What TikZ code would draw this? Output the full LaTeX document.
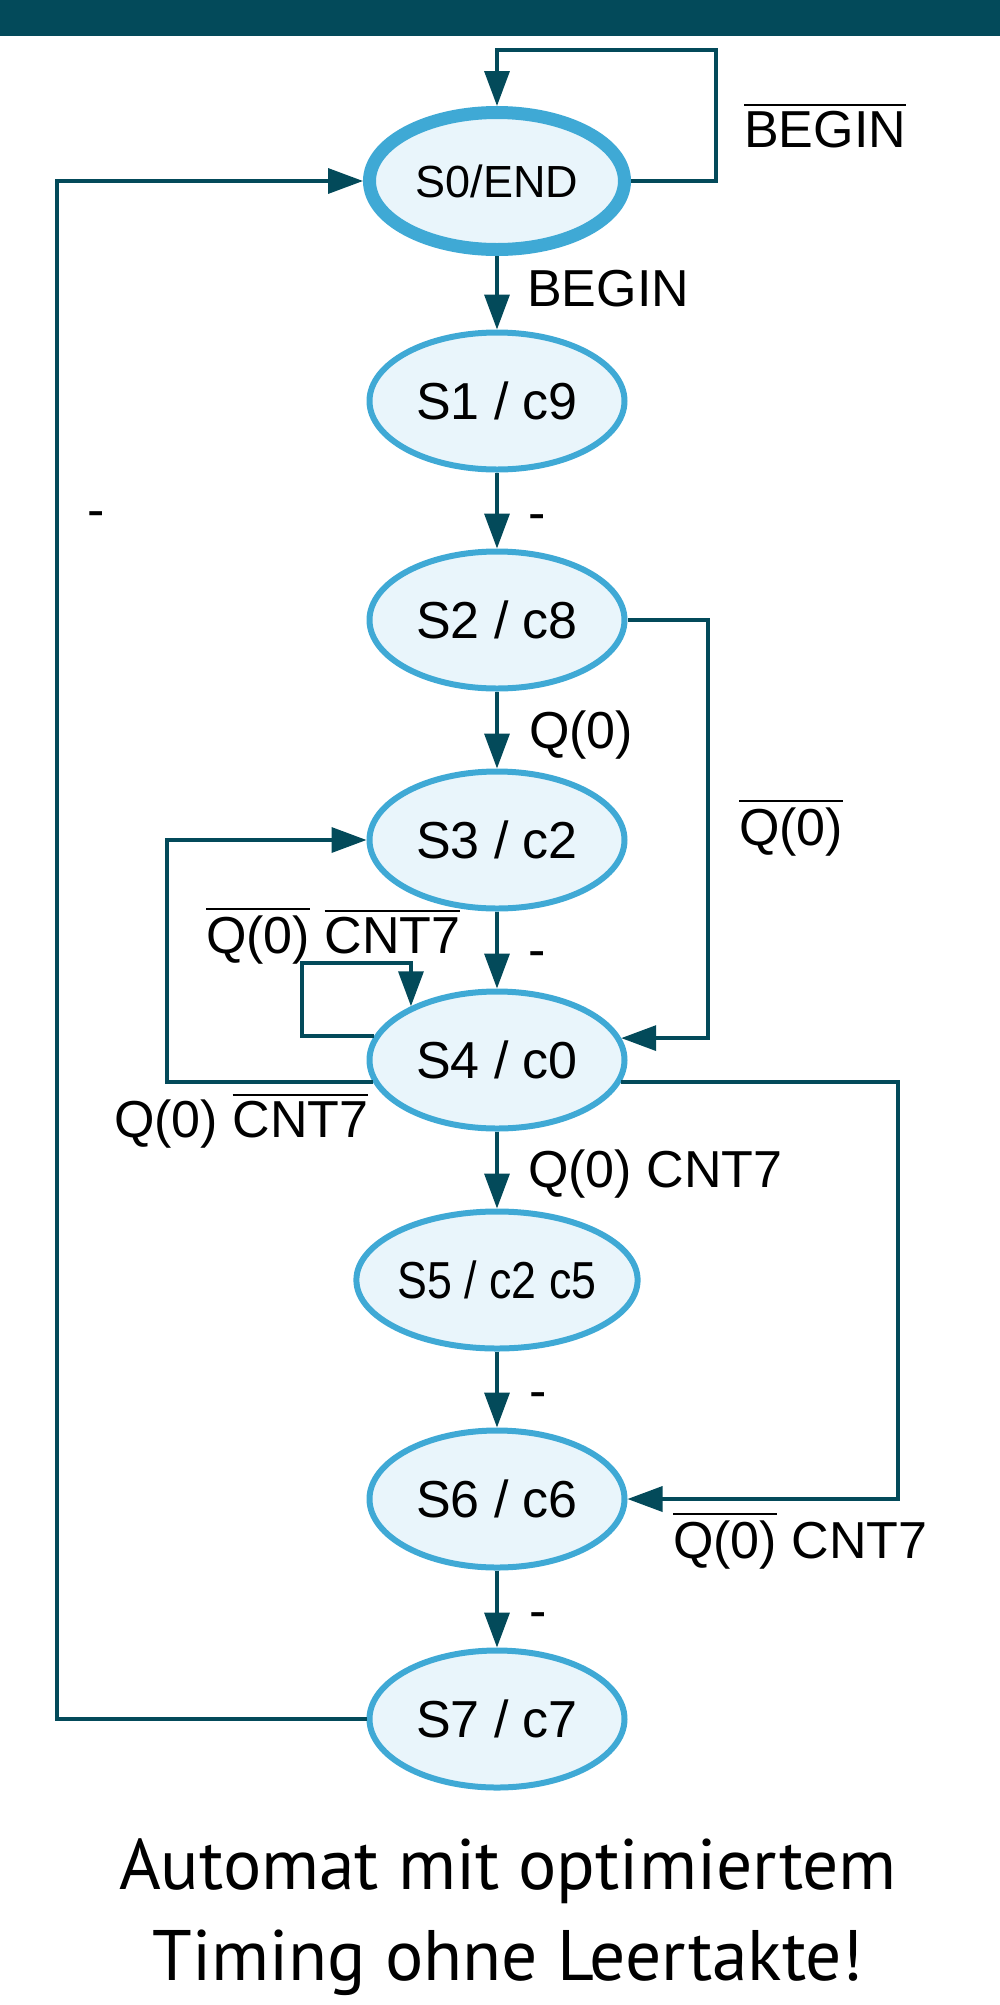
\documentclass[tikz,border=0pt]{standalone}
\usepackage{fontspec}
\setmainfont{Liberation Sans}
\newfontfamily\capfont{PT Sans}
\usetikzlibrary{arrows.meta}
\usetikzlibrary{shapes.geometric}

\definecolor{fsmline}{HTML}{034A5A}
\definecolor{fsmborder}{HTML}{3FA9D5}
\definecolor{fsmfill}{HTML}{E9F5FB}

% text with a bar above it
\newcommand{\ovl}[1]{\vbox{\hrule height 2pt\kern 5pt\hbox{#1}}}

\tikzset{
  state/.style={ellipse, draw=fsmborder, fill=fsmfill, line width=6pt,
    minimum width=255pt, minimum height=137pt, inner sep=0pt,
    font=\fontsize{52}{62}\selectfont},
  conn/.style={draw=fsmline, line width=3.5pt, -{Triangle[length=35pt,width=25pt]}},
  lbl/.style={anchor=base west, inner sep=0pt, font=\fontsize{52}{62}\selectfont},
}

\begin{document}
\begin{tikzpicture}[x=1pt,y=-1pt]
 \useasboundingbox (0,0) rectangle (1000,2005);
 \fill[fsmline] (0,0) rectangle (1000,36);

 % states
 \node[state, line width=13pt, font=\fontsize{45}{54}\selectfont] (S0) at (497,181) {S0/END};
 \node[state] (S1) at (497,401) {S1 / c9};
 \node[state] (S2) at (497,620) {S2 / c8};
 \node[state] (S3) at (497,840) {S3 / c2};
 \node[state] (S4) at (497,1060) {S4 / c0};
 \node[state] (S5) at (497,1280) {\scalebox{0.86}[1]{S5 / c2 c5}};
 \node[state] (S6) at (497,1499) {S6 / c6};
 \node[state] (S7) at (497,1719) {S7 / c7};

 % corner points
 \coordinate (loopS0) at (716,50);
 \coordinate (backL) at (57,181);
 \coordinate (loopR2) at (708,1000);
 \coordinate (loopL3) at (167,840);
 \coordinate (loopS4) at (302,963);
 \coordinate (loopR4) at (898,1499);

 % transitions
 \draw[conn] (S0.east) -| (loopS0) -| (S0.north);
 \draw[conn] (S0) -- (S1);
 \draw[conn] (S1) -- (S2);
 \draw[conn] (S2) -- (S3);
 \draw[conn] (S3) -- (S4);
 \draw[conn] (S4) -- (S5);
 \draw[conn] (S5) -- (S6);
 \draw[conn] (S6) -- (S7);
 \draw[conn] (S7.west) -| (backL) -- (S0.west);
 \draw[conn] (S2.east) -| (loopR2) |- (S4.10.5);
 \draw[conn] (S4.190) -| (loopL3) -- (S3.west);
 \draw[conn] (S4.169.5) -| (loopS4) -| (S4.148);
 \draw[conn] (S4.350) -| (loopR4) -- (S6.east);

 % labels
 \node[lbl] (l00) at (744,147) {\ovl{BEGIN}};
 \node[lbl] (l01) at (527,306) {BEGIN};
 \node[lbl] (l70) at (87,527) {-};
 \node[lbl] (l12) at (528,530) {-};
 \node[lbl] (l23) at (529,748) {Q(0)};
 \node[lbl] (l24) at (739,845) {\ovl{Q(0)}};
 \node[lbl] (l34) at (528,967) {-};
 \node[lbl] (l44) at (206,953) {\ovl{Q(0)} \ovl{CNT7}};
 \node[lbl] (l43) at (114,1137) {Q(0) \ovl{CNT7}};
 \node[lbl] (l45) at (528,1187) {Q(0) CNT7};
 \node[lbl] (l56) at (529,1408) {-};
 \node[lbl] (l46) at (673,1558) {\ovl{Q(0)} CNT7};
 \node[lbl] (l67) at (529,1628) {-};

 % caption
 \node[font=\capfont\fontsize{71.5}{86}\selectfont, anchor=base] (cap1) at (508,1889) {Automat mit optimiertem};
 \node[font=\capfont\fontsize{71.5}{86}\selectfont, anchor=base] (cap2) at (508,1980) {Timing ohne Leertakte!};
\end{tikzpicture}
\end{document}
